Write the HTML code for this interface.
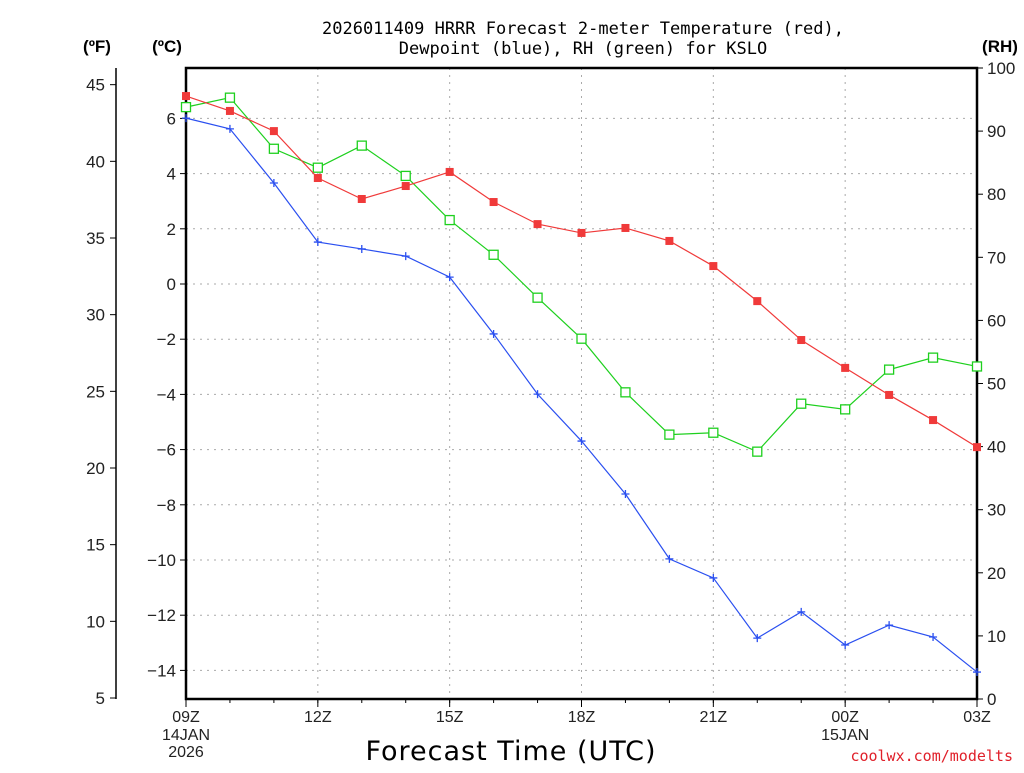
<!DOCTYPE html>
<html><head><meta charset="utf-8"><style>
body{margin:0;background:#fff}
svg text{font-family:"Liberation Sans","DejaVu Sans",sans-serif}
</style></head><body>
<svg id="c" width="1024" height="768" xmlns="http://www.w3.org/2000/svg">
<text x="583" y="34" text-anchor="middle" font-size="17" style="font-family:'DejaVu Sans Mono',monospace">2026011409 HRRR Forecast 2-meter Temperature (red),</text>
<text x="583" y="54" text-anchor="middle" font-size="17" style="font-family:'DejaVu Sans Mono',monospace">Dewpoint (blue), RH (green) for KSLO</text>
<text x="97" y="52" text-anchor="middle" font-size="17" font-weight="bold">(ºF)</text>
<text x="167" y="52" text-anchor="middle" font-size="17" font-weight="bold">(ºC)</text>
<text x="1000" y="52" text-anchor="middle" font-size="17" font-weight="bold">(RH)</text>
<text x="511" y="760" text-anchor="middle" font-size="27" style="font-family:'DejaVu Sans',sans-serif;letter-spacing:1px">Forecast Time (UTC)</text>
<text x="1013" y="761" text-anchor="end" font-size="15" fill="#e0202a" style="font-family:'DejaVu Sans Mono',monospace">coolwx.com/modelts</text>
<g id="g"></g>
</svg>
<script>
const hours=["09Z","10Z","11Z","12Z","13Z","14Z","15Z","16Z","17Z","18Z","19Z","20Z","21Z","22Z","23Z","00Z","01Z","02Z","03Z"];
const tempC=[6.81,6.27,5.54,3.84,3.08,3.55,4.06,2.97,2.17,1.85,2.03,1.56,0.65,-0.62,-2.03,-3.04,-4.02,-4.93,-5.91];
const dewC=[6.01,5.62,3.66,1.52,1.27,1.01,0.25,-1.81,-3.99,-5.69,-7.61,-9.96,-10.65,-12.83,-11.88,-13.08,-12.36,-12.79,-14.06];
const rh=[93.8,95.3,87.2,84.2,87.7,82.9,75.9,70.4,63.6,57.1,48.6,41.9,42.2,39.2,46.8,45.9,52.2,54.1,52.7];
const cTicks=[6,4,2,0,-2,-4,-6,-8,-10,-12,-14];
const fTicks=[45,40,35,30,25,20,15,10,5];
const rhTicks=[0,10,20,30,40,50,60,70,80,90,100];
const xLabels=[[0,"09Z"],[3,"12Z"],[6,"15Z"],[9,"18Z"],[12,"21Z"],[15,"00Z"],[18,"03Z"]];
const L=186,R=977,T=68,B=699;
const X=i=>L+(R-L)*i/(hours.length-1);
const YC=c=>284-27.6*c;
const YF=f=>YC((f-32)*5/9);
const YR=r=>B-(B-T)*r/100;
const g=document.getElementById('g');const NS="http://www.w3.org/2000/svg";
function mk(t,a,name){const e=document.createElementNS(NS,t);for(const k in a)e.setAttribute(k,a[k]);


g.appendChild(e);return e;}
function txt(x,y,s,anc,name,fs){const e=mk('text',{x:x,y:y,'text-anchor':anc,'font-size':fs||17,fill:'#222'},name);e.textContent=s;return e;}
cTicks.forEach(c=>{const y=YC(c);if(y>T+2)mk('line',{x1:L,x2:R,y1:y,y2:y,stroke:'#aaa','stroke-dasharray':'2,5'},'grid-line-h');
mk('line',{x1:L-6,x2:L,y1:y,y2:y,stroke:'#000'},'celsius-tick');
txt(L-10,y+6,(c<0?"\u2212"+(-c):c),'end','celsius-tick-label');});
fTicks.forEach(f=>{const y=YF(f);mk('line',{x1:110,x2:116,y1:y,y2:y,stroke:'#000'},'fahrenheit-tick');txt(105,y+6,f,'end','fahrenheit-tick-label');});
rhTicks.forEach(r=>{const y=YR(r);mk('line',{x1:R,x2:R+6,y1:y,y2:y,stroke:'#000'},'rh-tick');txt(987,y+6,r,'start','rh-tick-label');});
hours.forEach((h,i)=>{mk('line',{x1:X(i),x2:X(i),y1:B,y2:B+4,stroke:'#000'},'x-minor-tick');});
xLabels.forEach(([i,s])=>{const x=X(i);if(i>0&&i<18)mk('line',{x1:x,x2:x,y1:T,y2:B,stroke:'#aaa','stroke-dasharray':'2,5'},'grid-line-v');
mk('line',{x1:x,x2:x,y1:B,y2:B+8,stroke:'#000'},'x-major-tick');txt(x,722,s,'middle','x-tick-label',16);});
txt(X(0),740,"14JAN",'middle','x-date-label',16);txt(X(0),757,"2026",'middle','x-year-label',16);txt(X(15),740,"15JAN",'middle','x-date-label',16);
mk('line',{x1:116,x2:116,y1:T,y2:B,stroke:'#000','stroke-width':1.5},'fahrenheit-axis');
mk('rect',{x:L,y:T,width:R-L,height:B-T,fill:'none',stroke:'#000','stroke-width':2.5},'plot-frame');
function series(vals,yf,col,name){mk('polyline',{points:vals.map((v,i)=>X(i)+','+yf(v)).join(' '),fill:'none',stroke:col,'stroke-width':1.2},name+'-line');return vals.map((v,i)=>[X(i),yf(v)]);}
series(rh,YR,'#1ed01e','rh').forEach(([x,y])=>mk('rect',{x:x-4.5,y:y-4.5,width:9,height:9,fill:'#fff',stroke:'#1ed01e','stroke-width':1.3},'rh-marker'));
series(dewC,YC,'#2a4ff0','dewpoint').forEach(([x,y])=>mk('path',{d:`M${x-4},${y}H${x+4}M${x},${y-4}V${y+4}`,stroke:'#2a4ff0','stroke-width':1.3},'dewpoint-marker'));
series(tempC,YC,'#f03a3a','temperature').forEach(([x,y])=>mk('rect',{x:x-4,y:y-4,width:8,height:8,fill:'#f03a3a'},'temperature-marker'));
</script>
</body></html>
